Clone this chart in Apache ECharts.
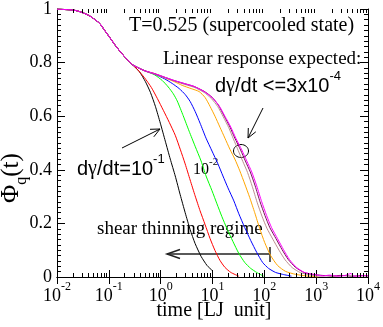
<!DOCTYPE html>
<html><head><meta charset="utf-8">
<script src="https://cdn.jsdelivr.net/npm/echarts@6/dist/echarts.min.js"></script>
<style>html,body{margin:0;padding:0;background:#fff}#c{width:383px;height:327px}</style>
</head><body><div id="c"></div>
<script>
const SERIF = '"Liberation Serif", "Times New Roman", serif';
const SANS = '"Liberation Sans", Arial, sans-serif';

const xTickExponents = ['-2', '-1', '0', '1', '2', '3', '4'];
const yTickLabels = ['0', '0.2', '0.4', '0.6', '0.8', '1'];

// shared short-time decay (all shear rates coincide)
const earlyDecay = [[0.01,1.0],[0.0142,0.998],[0.0178,0.997],[0.0221,0.995],[0.0276,0.99],[0.0344,0.983],[0.0429,0.974],[0.0535,0.961],[0.0667,0.946],[0.0832,0.92],[0.104,0.894],[0.129,0.868],[0.161,0.844],[0.201,0.822],[0.23,0.81],[0.286,0.792]];

const rate1e1 = [[0.39,0.766],[0.508,0.729],[0.634,0.689],[0.79,0.637],[0.985,0.574],[1.228,0.507],[1.532,0.44],[1.91,0.377],[2.381,0.307],[2.97,0.24],[3.702,0.177],[4.617,0.125],[6.019,0.077],[7.844,0.043],[9.78,0.025]];
const rate3e2 = [[0.357,0.774],[0.486,0.744],[0.662,0.707],[0.863,0.666],[1.125,0.622],[1.466,0.577],[1.91,0.529],[2.381,0.477],[2.97,0.422],[3.702,0.362],[4.617,0.303],[5.759,0.247],[7.18,0.196],[8.953,0.144],[11.16,0.099],[13.92,0.062],[17.36,0.036],[22.62,0.017],[32.2,0.003]];
const rate1e2 = [[0.486,0.77],[0.756,0.755],[1.076,0.733],[1.402,0.709],[1.748,0.684],[2.086,0.657],[2.719,0.602],[3.543,0.544],[4.617,0.488],[6.019,0.433],[7.504,0.377],[9.78,0.322],[12.19,0.273],[15.2,0.225],[18.96,0.181],[24.71,0.133],[32.2,0.088],[41.97,0.054],[54.69,0.032],[71.27,0.017],[97.05,0.003]];
const rate3e3 = [[0.486,0.77],[0.756,0.757],[1.175,0.74],[1.673,0.722],[2.279,0.703],[2.97,0.681],[3.702,0.655],[4.617,0.618],[5.759,0.574],[7.504,0.518],[9.78,0.47],[12.74,0.422],[15.89,0.377],[19.82,0.333],[25.82,0.284],[32.2,0.236],[41.97,0.184],[54.69,0.136],[71.27,0.092],[92.86,0.054],[121,0.032],[164.8,0.017],[224.5,0.01],[334,0.003]];
const rate1e3 = [[0.486,0.77],[0.756,0.759],[1.175,0.744],[1.827,0.729],[2.602,0.715],[3.87,0.703],[5.511,0.692],[7.18,0.67],[8.953,0.637],[11.16,0.6],[13.92,0.559],[17.36,0.518],[21.64,0.477],[26.99,0.44],[33.65,0.396],[41.97,0.347],[52.33,0.296],[65.26,0.24],[81.37,0.181],[101.4,0.129],[132.2,0.08],[180,0.043],[256.3,0.021],[398.6,0.01],[707.4,0.003],[1099,0.0]];
const rate3e4 = [[0.486,0.769],[0.756,0.757],[1.175,0.744],[1.827,0.731],[2.842,0.719],[4.418,0.708],[6.87,0.689],[9.5,0.666],[12.6,0.636],[16.2,0.597],[20.6,0.557],[25.2,0.516],[31.5,0.471],[38.5,0.431],[47.5,0.39],[58.5,0.338],[72.5,0.279],[90,0.227],[112,0.182],[146,0.141],[192,0.1],[252,0.064],[345,0.035],[500,0.016],[750,0.008],[1100,0.003],[1600,0.005],[2200,0.002],[3000,0.004]];
const rate1e4 = [[0.486,0.77],[0.756,0.759],[1.175,0.746],[1.827,0.733],[2.842,0.722],[4.418,0.711],[6.87,0.693],[9.78,0.671],[13.0,0.641],[16.9,0.6],[21.8,0.559],[27.0,0.518],[34.8,0.474],[43.0,0.433],[53.5,0.392],[66.5,0.34],[82.5,0.281],[103,0.229],[128,0.184],[168,0.143],[220,0.102],[290,0.065],[400,0.036],[580,0.017],[850,0.01],[1300,0.006],[2000,0.004],[3000,0.006],[5000,0.003],[7000,0.005],[10000,0.004]];
const rate3e5 = [[0.486,0.77],[0.756,0.759],[1.175,0.746],[1.827,0.733],[2.842,0.722],[4.418,0.711],[6.87,0.692],[9.78,0.67],[13.32,0.64],[17.36,0.6],[22.62,0.559],[28.2,0.518],[36.76,0.474],[45.84,0.433],[57.15,0.392],[71.27,0.34],[88.87,0.281],[110.8,0.229],[138.1,0.184],[180,0.143],[234.6,0.102],[305.7,0.065],[416.5,0.036],[592.7,0.017],[882,0.01],[1371,0.004],[1800,0.007],[2658,0.003],[3500,0.005],[4700,0.013],[5300,0.004],[6800,0.003],[8200,0.006],[10000,0.004]];

const curves = [
  {name: '1e-1', tail: rate1e1, color: '#000000'},
  {name: '3e-2', tail: rate3e2, color: '#ff0000'},
  {name: '1e-2', tail: rate1e2, color: '#00ff00'},
  {name: '3e-3', tail: rate3e3, color: '#0000ff'},
  {name: '1e-3', tail: rate1e3, color: '#ffa500'},
  {name: '3e-4', tail: rate3e4, color: '#bc8f8f'},
  {name: '1e-4', tail: rate1e4, color: '#7d0a5e'},
  {name: '3e-5', tail: rate3e5, color: '#ff00ff'}
];

const xMinorTicks = [];
for (let e = -2; e < 4; e++) for (let m = 2; m <= 9; m++) xMinorTicks.push([m * Math.pow(10, e), 0]);

const chart = echarts.init(document.getElementById('c'), null, {renderer: 'canvas'});

const lineSeries = curves.map(c => ({
  name: c.name, type: 'line', data: earlyDecay.concat(c.tail),
  showSymbol: false, smooth: 0.2, lineStyle: {color: c.color, width: 1}, itemStyle: {color: c.color},
  xAxisIndex: 0, yAxisIndex: 0, silent: true, z: 3
}));

const minorTickSeries = {
  type: 'custom', xAxisIndex: 0, yAxisIndex: 0, data: xMinorTicks, silent: true, clip: false, z: 5,
  renderItem(params, api) {
    const v = api.value(0);
    const b = api.coord([v, 0]);
    const t = api.coord([v, 1]);
    const x = Math.round(b[0]) + 0.5;
    return {type: 'group', children: [
      {type: 'line', shape: {x1: x, y1: b[1], x2: x, y2: b[1] - 4}, style: {stroke: '#000', lineWidth: 1}},
      {type: 'line', shape: {x1: x, y1: t[1], x2: x, y2: t[1] + 4}, style: {stroke: '#000', lineWidth: 1}}
    ]};
  }
};

const axisLineStyle = {show: true, lineStyle: {color: '#000', width: 1}};
const gammaRich = (size) => ({a: {font: size + 'px ' + SANS, fill: '#000', verticalAlign: 'bottom'},
  g: {font: size + 'px ' + SERIF, fill: '#000', verticalAlign: 'bottom'},
  s: {font: '13px ' + SANS, fill: '#000', verticalAlign: 'bottom', padding: [0, 0, 13, 0]}});

chart.setOption({
  animation: false,
  backgroundColor: '#fff',
  grid: {left: 57, top: 7, width: 313, height: 270, show: false},
  xAxis: [
    {type: 'log', logBase: 10, min: 0.01, max: 10000, position: 'bottom',
     axisLine: axisLineStyle,
     axisTick: {show: true, inside: true, length: 7, lineStyle: {color: '#000'}},
     splitLine: {show: false},
     axisLabel: {
       margin: 4, color: '#000',
       formatter: v => '{b|10}{s|' + xTickExponents[Math.round(Math.log10(v)) + 2] + '}',
       rich: {
         b: {fontFamily: SERIF, fontSize: 18, color: '#000', verticalAlign: 'bottom'},
         s: {fontFamily: SERIF, fontSize: 12, color: '#000', verticalAlign: 'bottom', padding: [0, 0, 12, 0]}
       }
     }},
    {type: 'log', logBase: 10, min: 0.01, max: 10000, position: 'top',
     axisLine: axisLineStyle,
     axisTick: {show: true, inside: true, length: 7, lineStyle: {color: '#000'}},
     splitLine: {show: false}, axisLabel: {show: false}}
  ],
  yAxis: [
    {type: 'value', min: 0, max: 1, interval: 0.2, position: 'left',
     axisLine: axisLineStyle,
     axisTick: {show: true, inside: true, length: 8, lineStyle: {color: '#000'}},
     minorTick: {show: true, splitNumber: 10, length: 4, lineStyle: {color: '#000'}},
     splitLine: {show: false},
     axisLabel: {margin: 5, color: '#000', fontFamily: SERIF, fontSize: 18,
       formatter: (v) => yTickLabels[Math.round(v * 5)]}},
    {type: 'value', min: 0, max: 1, interval: 0.2, position: 'right',
     axisLine: axisLineStyle,
     axisTick: {show: true, inside: true, length: 8, lineStyle: {color: '#000'}},
     minorTick: {show: true, splitNumber: 10, length: 4, lineStyle: {color: '#000'}},
     splitLine: {show: false}, axisLabel: {show: false}}
  ],
  series: lineSeries.concat([minorTickSeries]),
  graphic: [
    {type: 'text', x: 129, y: 26, silent: true,
     style: {text: 'T=0.525 (supercooled state)', font: '20px ' + SERIF, fill: '#000', verticalAlign: 'middle'}},
    {type: 'text', x: 163, y: 59, silent: true,
     style: {text: 'Linear response expected:', font: '19px ' + SERIF, fill: '#000', verticalAlign: 'middle'}},
    {type: 'text', x: 215, y: 96, silent: true,
     style: {text: '{a|d}{g|γ}{a|/dt <=3x10}{s|-4}', verticalAlign: 'bottom', fill: '#000', rich: gammaRich(20)}},
    {type: 'text', x: 77, y: 179, silent: true,
     style: {text: '{a|d}{g|γ}{a|/dt=10}{s|-1}', verticalAlign: 'bottom', fill: '#000', rich: gammaRich(20)}},
    {type: 'text', x: 193, y: 178, silent: true,
     style: {text: '{a|10}{s|-2}', verticalAlign: 'bottom', fill: '#000',
       rich: {a: {font: '16px ' + SERIF, fill: '#000', verticalAlign: 'bottom'},
              s: {font: '11px ' + SERIF, fill: '#000', verticalAlign: 'bottom', padding: [0, 0, 10, 0]}}}},
    {type: 'text', x: 97, y: 229.5, silent: true,
     style: {text: 'shear thinning regime', font: '19px ' + SERIF, fill: '#000', verticalAlign: 'middle'}},
    {type: 'text', x: 214, y: 311, silent: true,
     style: {text: 'time [LJ  unit]', font: '20px ' + SERIF, fill: '#000', align: 'center', verticalAlign: 'middle'}},
    {type: 'text', x: 14, y: 203, rotation: Math.PI / 2, silent: true,
     style: {text: '{a|Φ}{q|q}{a|(t)}', align: 'left', verticalAlign: 'middle', fill: '#000',
       rich: {a: {font: '25px ' + SERIF, fill: '#000', verticalAlign: 'bottom', padding: [0, 0, 6, 0]},
              q: {font: '16px ' + SERIF, fill: '#000', verticalAlign: 'bottom'}}}},
    // arrow to the 10^-1 curve
    {type: 'polyline', silent: true, shape: {points: [[122, 148], [160, 129]]}, style: {stroke: '#000', lineWidth: 1, fill: null}},
    {type: 'polyline', silent: true, shape: {points: [[153.8, 136.8], [160, 129], [150, 129.3]]}, style: {stroke: '#000', lineWidth: 1, fill: null}},
    // arrow to linear response circle
    {type: 'polyline', silent: true, shape: {points: [[263, 108], [248, 138]]}, style: {stroke: '#000', lineWidth: 1, fill: null}},
    {type: 'polyline', silent: true, shape: {points: [[248.3, 128], [248, 138], [255.8, 131.8]]}, style: {stroke: '#000', lineWidth: 1, fill: null}},
    {type: 'ellipse', silent: true, shape: {cx: 241, cy: 151, rx: 7.5, ry: 6.5}, style: {stroke: '#000', lineWidth: 1, fill: null}},
    // shear thinning arrow
    {type: 'polyline', silent: true, shape: {points: [[167, 254], [270, 254]]}, style: {stroke: '#222', lineWidth: 1.5, fill: null}},
    {type: 'polyline', silent: true, shape: {points: [[270, 247], [270, 262]]}, style: {stroke: '#222', lineWidth: 1.5, fill: null}},
    {type: 'polyline', silent: true, shape: {points: [[180, 249.5], [167, 254], [180, 258.5]]}, style: {stroke: '#222', lineWidth: 1.5, fill: null}}
  ]
});
</script>
</body></html>
